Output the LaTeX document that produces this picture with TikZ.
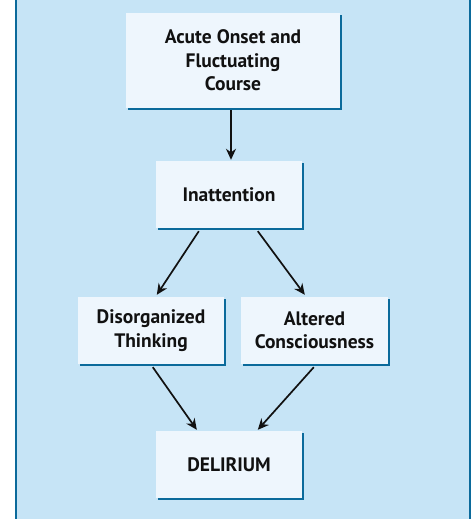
\documentclass[tikz,border=0pt]{standalone}
\usepackage{fontspec}
\setmainfont{PT Sans}
\usetikzlibrary{arrows.meta,shadows,calc}
\definecolor{bgblue}{HTML}{C6E4F6}
\definecolor{boxfill}{HTML}{EEF6FD}
\definecolor{dkblue}{HTML}{0B6A9B}
\definecolor{ink}{HTML}{111111}
\begin{document}
\begin{tikzpicture}[x=1pt,y=-1pt,
  box/.style={fill=boxfill, draw=none, inner sep=0pt, align=center,
    font=\bfseries\fontsize{19.5}{23.5}\selectfont, text=ink,
    drop shadow={shadow xshift=2pt, shadow yshift=-2pt, fill=dkblue, opacity=1}},
  link/.style={draw=ink, line width=1.7pt, -{Stealth[length=11pt,width=10pt]}}]
\useasboundingbox (0,0) rectangle (471,519);
\fill[bgblue] (17,0) rectangle (469,519);
\fill[dkblue] (15,0) rectangle (17,519);
\fill[dkblue] (469,0) rectangle (471,519);
\node[box, minimum width=214pt, minimum height=95pt] (top) at (233,60.5) {Acute Onset and\\Fluctuating\\Course};
\node[box, minimum width=146pt, minimum height=67pt] (inat) at (229,194.5) {Inattention};
\node[box, minimum width=146pt, minimum height=67pt] (dis) at (151,330.5) {Disorganized\\Thinking};
\node[box, minimum width=147pt, minimum height=67pt] (alt) at (314.5,330.5) {Altered\\Consciousness};
\node[box, minimum width=146pt, minimum height=67pt] (del) at (229,464.5) {DELIRIUM};
\draw[link] ($(top.south)+(-2,2)$) -- ($(inat.north)+(2,-1)$);
\draw[link] ($(inat.south west)+(43,3)$) -- ($(dis.north west)+(79,-2)$);
\draw[link] ($(inat.south west)+(102,3)$) -- ($(alt.north west)+(64,-2)$);
\draw[link] ($(dis.south west)+(75,3)$) -- ($(del.north west)+(41,-1)$);
\draw[link] ($(alt.south west)+(73,3)$) -- ($(del.north west)+(102,-1)$);
\end{tikzpicture}
\end{document}
